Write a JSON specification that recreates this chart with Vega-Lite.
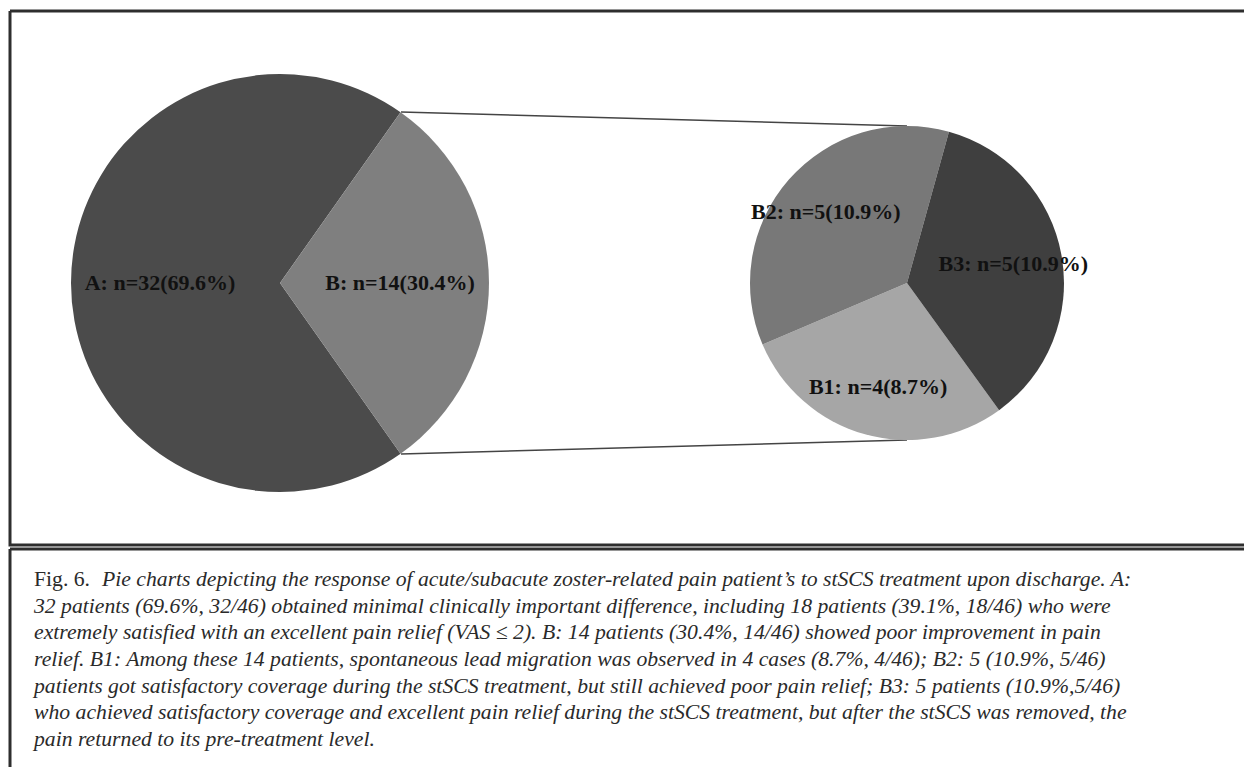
{
  "$schema": "https://vega.github.io/schema/vega-lite/v6.json",
  "padding": {"left": 8, "top": 9, "right": 0, "bottom": 0},
  "background": "white",
  "spacing": 0,
  "config": {"view": {"stroke": null}},
  "datasets": {
    "slices": [
      {"pie": "All patients", "group": "A", "n": 32, "pct": 69.6, "label": "A: n=32(69.6%)"},
      {"pie": "All patients", "group": "B", "n": 14, "pct": 30.4, "label": "B: n=14(30.4%)"},
      {"pie": "Group B", "group": "B1", "n": 4, "pct": 8.7, "label": "B1: n=4(8.7%)"},
      {"pie": "Group B", "group": "B2", "n": 5, "pct": 10.9, "label": "B2: n=5(10.9%)"},
      {"pie": "Group B", "group": "B3", "n": 5, "pct": 10.9, "label": "B3: n=5(10.9%)"}
    ],
    "links": [
      {"from": "All patients", "to": "Group B", "edge": "top"},
      {"from": "All patients", "to": "Group B", "edge": "bottom"}
    ],
    "caption": [
      {"line": 1, "part": "label", "text": "Fig. 6."},
      {"line": 1, "part": "body", "text": "Pie charts depicting the response of  acute/subacute zoster-related pain patient’s to stSCS treatment upon discharge. A:"},
      {"line": 2, "part": "body", "text": "32 patients (69.6%, 32/46) obtained minimal clinically important difference, including 18 patients (39.1%, 18/46) who were"},
      {"line": 3, "part": "body", "text": "extremely satisfied with an excellent pain relief  (VAS ≤ 2). B: 14 patients (30.4%, 14/46) showed poor improvement in pain"},
      {"line": 4, "part": "body", "text": "relief. B1: Among these 14 patients, spontaneous lead migration was observed in 4 cases (8.7%, 4/46); B2: 5 (10.9%, 5/46)"},
      {"line": 5, "part": "body", "text": "patients got satisfactory coverage during the stSCS treatment, but still achieved poor pain relief; B3: 5 patients (10.9%,5/46)"},
      {"line": 6, "part": "body", "text": "who achieved satisfactory coverage and excellent pain relief  during the stSCS treatment, but after the stSCS was removed, the"},
      {"line": 7, "part": "body", "text": "pain returned to its pre-treatment level."}
    ]
  },
  "vconcat": [
    {
      "width": 1236,
      "height": 534,
      "view": {"stroke": "#2e2e2e", "strokeWidth": 3, "strokeDash": [1236, 534, 1770, 0]},
      "resolve": {"scale": {"theta": "independent"}},
      "layer": [
        {
          "data": {"name": "links"},
          "transform": [{"filter": "datum.edge == 'top'"}],
          "mark": {"type": "rule", "color": "#444444", "strokeWidth": 1.5, "xOffset": 121, "yOffset": -171, "y2Offset": -157},
          "encoding": {
            "x": {"field": "from", "type": "nominal", "scale": {"type": "point", "padding": 0, "domain": ["All patients", "Group B"], "range": [270, 897]}, "axis": null},
            "x2": {"field": "to"},
            "y": {"field": "from", "type": "nominal", "scale": {"type": "point", "padding": 0, "domain": ["All patients", "Group B"], "range": [272, 272]}, "axis": null},
            "y2": {"field": "to"}
          }
        },
        {
          "data": {"name": "links"},
          "transform": [{"filter": "datum.edge == 'bottom'"}],
          "mark": {"type": "rule", "color": "#444444", "strokeWidth": 1.5, "xOffset": 121, "yOffset": 171, "y2Offset": 157},
          "encoding": {
            "x": {"field": "from", "type": "nominal", "axis": null},
            "x2": {"field": "to"},
            "y": {"field": "from", "type": "nominal", "axis": null},
            "y2": {"field": "to"}
          }
        },
        {
          "data": {"name": "slices"},
          "transform": [{"filter": "datum.pie == 'All patients'"}],
          "encoding": {
            "theta": {"field": "n", "type": "quantitative", "stack": true, "scale": {"range": [2.5269, 8.8101]}},
            "x": {"field": "pie", "type": "nominal", "axis": null},
            "y": {"field": "pie", "type": "nominal", "axis": null},
            "order": {"field": "group", "type": "nominal", "sort": "ascending"}
          },
          "layer": [
            {
              "mark": {"type": "arc", "outerRadius": 209},
              "encoding": {
                "color": {"field": "group", "type": "nominal", "legend": null, "scale": {"domain": ["A", "B", "B1", "B2", "B3"], "range": ["#4b4b4b", "#7f7f7f", "#a6a6a6", "#787878", "#3f3f3f"]}}
              }
            },
            {
              "mark": {"type": "text", "radius": 120, "font": "Liberation Serif", "fontWeight": "bold", "fontSize": 22, "fill": "#111111"},
              "encoding": {
                "text": {"field": "label", "type": "nominal"},
                "detail": {"field": "group", "type": "nominal"}
              }
            }
          ]
        },
        {
          "data": {"name": "slices"},
          "transform": [{"filter": "datum.pie == 'Group B'"}],
          "encoding": {
            "theta": {"field": "n", "type": "quantitative", "stack": true, "scale": {"range": [2.5145, 8.7977]}},
            "x": {"field": "pie", "type": "nominal", "axis": null},
            "y": {"field": "pie", "type": "nominal", "axis": null},
            "order": {"field": "group", "type": "nominal", "sort": "ascending"}
          },
          "layer": [
            {
              "mark": {"type": "arc", "outerRadius": 157},
              "encoding": {
                "color": {"field": "group", "type": "nominal", "legend": null}
              }
            },
            {
              "mark": {"type": "text", "radius": 108, "font": "Liberation Serif", "fontWeight": "bold", "fontSize": 22, "fill": "#111111"},
              "encoding": {
                "text": {"field": "label", "type": "nominal"},
                "detail": {"field": "group", "type": "nominal"}
              }
            }
          ]
        }
      ]
    },
    {
      "width": 1236,
      "height": 222,
      "view": {"stroke": "#2e2e2e", "strokeWidth": 3, "strokeDash": [1236, 1458, 222, 0]},
      "data": {"name": "caption"},
      "encoding": {
        "x": {"datum": 0, "type": "quantitative", "scale": {"domain": [0, 1]}, "axis": null},
        "y": {"field": "line", "type": "ordinal", "scale": {"type": "point", "padding": 0, "range": [30, 190]}, "axis": null},
        "text": {"field": "text", "type": "nominal"}
      },
      "layer": [
        {
          "transform": [{"filter": "datum.part == 'label'"}],
          "mark": {"type": "text", "align": "left", "baseline": "middle", "dx": 24, "font": "Liberation Serif", "fontSize": 21.7, "fill": "#2a2a2a"}
        },
        {
          "transform": [{"filter": "datum.part == 'body' && datum.line == 1"}],
          "mark": {"type": "text", "align": "left", "baseline": "middle", "dx": 92, "font": "Liberation Serif", "fontStyle": "italic", "fontSize": 21.7, "fill": "#2a2a2a"}
        },
        {
          "transform": [{"filter": "datum.part == 'body' && datum.line > 1"}],
          "mark": {"type": "text", "align": "left", "baseline": "middle", "dx": 24, "font": "Liberation Serif", "fontStyle": "italic", "fontSize": 21.7, "fill": "#2a2a2a"}
        }
      ]
    }
  ]
}
